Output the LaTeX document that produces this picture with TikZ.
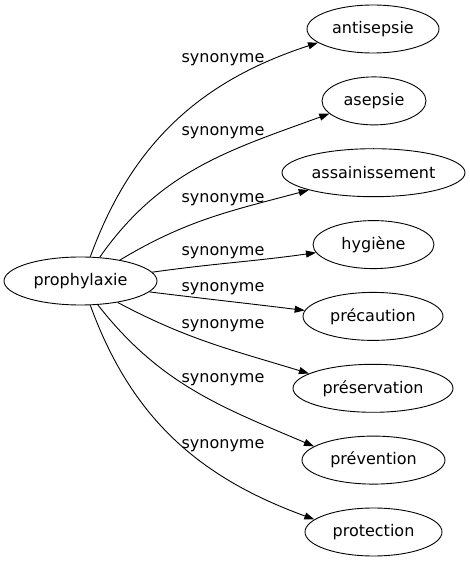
\documentclass[tikz,border=0pt]{standalone}
\usepackage{fontspec}
\setmainfont{DejaVu Sans}
\usetikzlibrary{shapes.geometric,arrows.meta}

\begin{document}
\begin{tikzpicture}[
    x=1pt,y=1pt,
    font=\fontsize{16}{19}\selectfont,
    word/.style={draw,ellipse,inner sep=0pt,minimum height=48pt,line width=0.9pt},
    syn/.style={inner sep=0pt},
    rel/.style={line width=0.9pt,-{Triangle[length=10pt,width=7pt]}},
  ]
  \useasboundingbox (0,0) rectangle (470,563);

  \node[word,minimum width=153pt] (prophylaxie) at (80.5,282) {prophylaxie};

  \node[word,minimum width=132pt] (antisepsie) at (373,534) {antisepsie};
  \node[word,minimum width=104pt] (asepsie) at (374,462.1) {asepsie};
  \node[word,minimum width=183pt] (assainissement) at (373.5,390.3) {assainissement};
  \node[word,minimum width=121pt] (hygiene) at (373.5,318.4) {hygiène};
  \node[word,minimum width=140pt] (precaution) at (373,246.6) {précaution};
  \node[word,minimum width=160pt] (preservation) at (373,174.7) {préservation};
  \node[word,minimum width=143pt] (prevention) at (373.5,102.9) {prévention};
  \node[word,minimum width=137pt] (protection) at (373.5,31) {protection};

  \draw[rel] (prophylaxie.68) to[out=70,in=198] (antisepsie.194);
  \draw[rel] (prophylaxie.51) to[out=55,in=200] (asepsie.196);
  \draw[rel] (prophylaxie.28) to[out=31,in=195] (assainissement.195);
  \draw[rel] (prophylaxie.7) to[out=8,in=188] (hygiene.188);
  \draw[rel] (prophylaxie.-9) to[out=-7,in=173] (precaution.175.5);
  \draw[rel] (prophylaxie.-30) to[out=-28,in=163] (preservation.167);
  \draw[rel] (prophylaxie.-54) to[out=-52,in=157] (prevention.167);
  \draw[rel] (prophylaxie.-68) to[out=-70,in=160] (protection.168);

  % labels of the edges
  \foreach \y [count=\i] in {503,430,363,310,274,237,183,117}
    \node[syn] (syn\i) at (223,\y) {synonyme};
\end{tikzpicture}
\end{document}
